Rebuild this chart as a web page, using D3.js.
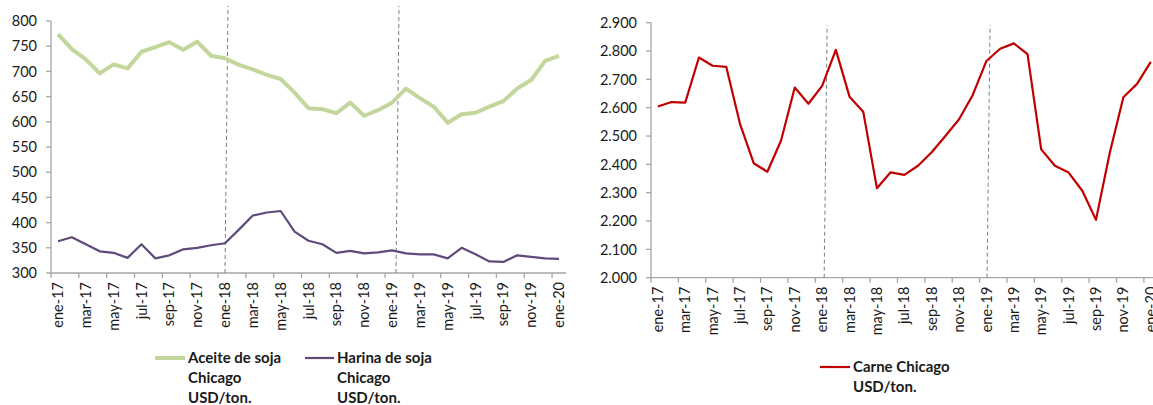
<!DOCTYPE html>
<html>
<head>
<meta charset="utf-8">
<script src="https://cdn.jsdelivr.net/npm/d3@7"></script>
<style>
  body { margin: 0; background: #fff; }
  svg { display: block; font-family: Lato, "Open Sans", sans-serif; }
</style>
</head>
<body>
<div class="interactive-wrapper"></div>
<script>
// months ene-17 .. ene-20
const months = [
  "ene-17","feb-17","mar-17","abr-17","may-17","jun-17","jul-17","ago-17","sep-17","oct-17","nov-17","dic-17",
  "ene-18","feb-18","mar-18","abr-18","may-18","jun-18","jul-18","ago-18","sep-18","oct-18","nov-18","dic-18",
  "ene-19","feb-19","mar-19","abr-19","may-19","jun-19","jul-19","ago-19","sep-19","oct-19","nov-19","dic-19",
  "ene-20"]

const aceite = [774, 744, 724, 696, 714, 706, 739, 748, 758, 743, 759, 731, 726,
  713, 704, 693, 685, 658, 627, 625, 617, 638, 612, 623, 638,
  666, 647, 630, 598, 615, 618, 630, 641, 666, 683, 721, 731]

const harina = [363, 371, 357, 343, 340, 330, 357, 329, 335, 347, 350, 355, 359,
  386, 414, 420, 423, 382, 364, 357, 340, 344, 339, 341, 345,
  339, 337, 337, 329, 350, 337, 323, 322, 335, 332, 329, 328]

const carne = [2604, 2620, 2618, 2777, 2748, 2744, 2543, 2404, 2374, 2484, 2671, 2614, 2677,
  2804, 2639, 2586, 2316, 2372, 2363, 2395, 2443, 2500, 2559, 2645, 2765,
  2808, 2827, 2789, 2453, 2395, 2371, 2307, 2204, 2439, 2637, 2684, 2762]

const leftTicks = [300, 350, 400, 450, 500, 550, 600, 650, 700, 750, 800]
const rightTicks = [2000, 2100, 2200, 2300, 2400, 2500, 2600, 2700, 2800, 2900]
const dividers = ["ene-18", "ene-19"]

let width = 1153
let height = 405

let svg = d3.select(".interactive-wrapper").append('svg')
.attr('width', width)
.attr('height', height)

const axisColor = '#a6a6a6'
const textColor = '#1a1a1a'

const fmt = d3.formatLocale({decimal: ",", thousands: ".", grouping: [3], currency: ["", ""]}).format(",")

const makePanel = (opts) => {

  let x = d3.scaleBand()
  .domain(months)
  .range([opts.x0, opts.x1])
  .padding(0)

  let y = d3.scaleLinear()
  .domain(d3.extent(opts.ticks))
  .range([opts.yBottom, opts.yTop])

  let g = svg.append('g')

  // y axis
  g.append('line')
  .attr('x1', opts.x0).attr('x2', opts.x0)
  .attr('y1', y(d3.max(opts.ticks))).attr('y2', opts.yBottom)
  .style('stroke', axisColor)
  .style('stroke-width', 1.3)

  g.selectAll('.ytick')
  .data(opts.ticks)
  .enter()
  .append('line')
  .attr('x1', opts.x0 - 5).attr('x2', opts.x0)
  .attr('y1', d => y(d)).attr('y2', d => y(d))
  .style('stroke', axisColor)
  .style('stroke-width', 1.3)

  g.selectAll('.ylabel')
  .data(opts.ticks)
  .enter()
  .append('text')
  .attr('x', opts.x0 - 14)
  .attr('y', d => y(d))
  .attr('dy', '0.36em')
  .attr('text-anchor', 'end')
  .style('font-size', '14.5px')
  .style('fill', textColor)
  .text(d => opts.format(d))

  // x axis
  g.append('line')
  .attr('x1', opts.x0).attr('x2', opts.x1)
  .attr('y1', opts.yBottom).attr('y2', opts.yBottom)
  .style('stroke', axisColor)
  .style('stroke-width', 1.3)

  let every2 = months.filter((m, i) => i % 2 === 0)

  g.selectAll('.xtick')
  .data(every2)
  .enter()
  .append('line')
  .attr('x1', d => x(d)).attr('x2', d => x(d))
  .attr('y1', opts.yBottom).attr('y2', opts.yBottom + 5)
  .style('stroke', axisColor)
  .style('stroke-width', 1.3)

  g.selectAll('.xlabel')
  .data(every2)
  .enter()
  .append('text')
  .attr('transform', d => 'translate(' + (x(d) + x.bandwidth() / 2) + ',' + (opts.yBottom + 9) + ') rotate(-90)')
  .attr('dy', '0.35em')
  .attr('text-anchor', 'end')
  .style('font-size', '14.5px')
  .style('fill', textColor)
  .text(d => d)

  // dashed dividers
  g.selectAll('.divider')
  .data(dividers)
  .enter()
  .append('line')
  .attr('x1', (d, i) => x(d) + x.bandwidth() / 2 + opts.divOffset[i])
  .attr('x2', (d, i) => x(d) + x.bandwidth() / 2 + opts.divOffset[i] + 3)
  .attr('y1', opts.yBottom)
  .attr('y2', opts.divTop)
  .style('stroke', '#7f7f7f')
  .style('stroke-width', 1)
  .style('stroke-dasharray', '4,3')

  opts.series.forEach(s => {
    let line = d3.line()
    .x((d, i) => x(months[i]) + x.bandwidth() / 2)
    .y(d => y(d))

    g.append('path')
    .datum(s.values)
    .attr('d', line)
    .style('fill', 'none')
    .style('stroke', s.color)
    .style('stroke-width', s.width)
    .style('stroke-linejoin', 'round')
  })
}

makePanel({
  x0: 51, x1: 566, yTop: 21, yBottom: 273,
  ticks: leftTicks,
  format: d => d,
  divTop: 6,
  divOffset: [0, 4],
  series: [
    {values: aceite, color: '#c3d69b', width: 4},
    {values: harina, color: '#604a7b', width: 2.2}
  ]
})

makePanel({
  x0: 651, x1: 1157.6, yTop: 22.7, yBottom: 277.7,
  ticks: rightTicks,
  format: fmt,
  divTop: 25,
  divOffset: [2, 0.6],
  series: [
    {values: carne, color: '#c00000', width: 2.2}
  ]
})

// legends
const legend = (lx, ly, lineLen, color, lw, lines) => {
  let g = svg.append('g')
  g.append('line')
  .attr('x1', lx).attr('x2', lx + lineLen)
  .attr('y1', ly).attr('y2', ly)
  .style('stroke', color)
  .style('stroke-width', lw)

  g.selectAll('text')
  .data(lines)
  .enter()
  .append('text')
  .attr('x', lx + lineLen + 3)
  .attr('y', (d, i) => ly + i * 20)
  .attr('dy', '0.36em')
  .style('font-size', '15px')
  .style('font-weight', 'bold')
  .style('fill', textColor)
  .text(d => d)
}

legend(155, 358, 30, '#c3d69b', 4, ["Aceite de soja", "Chicago", "USD/ton."])
legend(305, 358, 29, '#604a7b', 2.2, ["Harina de soja", "Chicago", "USD/ton."])
legend(820, 367, 30, '#c00000', 2.2, ["Carne Chicago", "USD/ton."])

</script>
</body>
</html>
